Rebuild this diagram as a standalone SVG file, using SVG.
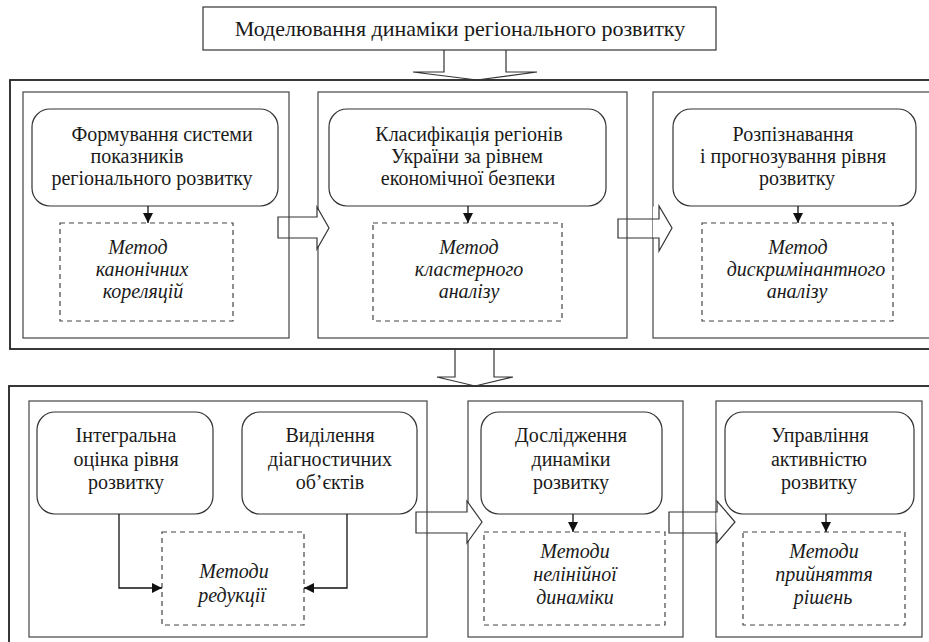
<svg xmlns="http://www.w3.org/2000/svg" width="929" height="642" viewBox="0 0 929 642">
<defs>
<style>
.frame{fill:none;stroke:#222;stroke-width:1.8}
.panel{fill:none;stroke:#444;stroke-width:1.2}
.rbox{fill:#fff;stroke:#333;stroke-width:1.2}
.dbox{fill:none;stroke:#444;stroke-width:1.2;stroke-dasharray:5,4}
.hollow{fill:none;stroke:#333;stroke-width:1.2;stroke-linejoin:miter}
.mask{fill:#fff;stroke:none}
.link{fill:none;stroke:#111;stroke-width:1.3}
text{font-family:"Liberation Serif","Times New Roman",serif;font-size:20px;fill:#1a1a1a;text-anchor:middle}
.it{font-style:italic}
.ttl{font-size:22px}
</style>
<marker id="ah" viewBox="0 0 10 10" refX="10" refY="5" markerWidth="10" markerHeight="10" markerUnits="userSpaceOnUse" orient="auto">
<path d="M0,0 L10,5 L0,10 Z" fill="#111"/>
</marker>
</defs>

<g id="title">
<rect x="203" y="7" width="513" height="43" fill="#fff" stroke="#333" stroke-width="1.2"/>
<text class="ttl" x="460" y="36">Моделювання динаміки регіонального розвитку</text>
</g>

<g id="frames">
<rect class="frame" x="10" y="80" width="935" height="269"/>
<rect class="frame" x="9" y="386" width="935" height="270"/>
</g>

<g id="panel1">
<rect class="panel" x="23" y="92" width="266" height="246"/>
<rect class="rbox" x="32" y="109" width="246" height="97" rx="18"/>
<text x="162" y="141">Формування системи</text>
<text x="137" y="163">показників</text>
<text x="152" y="185">регіонального розвитку</text>
<rect class="dbox" x="60" y="223" width="173" height="98"/>
<text class="it" x="138" y="254">Метод</text>
<text class="it" x="142" y="276">канонічних</text>
<text class="it" x="143" y="298">кореляцій</text>
</g>

<g id="panel2">
<rect class="panel" x="318" y="92" width="309" height="246"/>
<rect class="rbox" x="329" y="109" width="277" height="97" rx="18"/>
<text x="469" y="141">Класифікація регіонів</text>
<text x="467" y="163">України за рівнем</text>
<text x="468" y="185">економічної безпеки</text>
<rect class="dbox" x="373" y="223" width="189" height="98"/>
<text class="it" x="469" y="254">Метод</text>
<text class="it" x="469" y="276">кластерного</text>
<text class="it" x="469" y="298">аналізу</text>
</g>

<g id="panel3">
<rect class="panel" x="653" y="92" width="290" height="246"/>
<rect class="rbox" x="673" y="109" width="243" height="97" rx="18"/>
<text x="793" y="141">Розпізнавання</text>
<text x="793" y="163">і прогнозування рівня</text>
<text x="797" y="185">розвитку</text>
<rect class="dbox" x="702" y="223" width="191" height="98"/>
<text class="it" x="798" y="254">Метод</text>
<text class="it" x="806" y="276">дискримінантного</text>
<text class="it" x="797" y="298">аналізу</text>
</g>

<g id="panel4">
<rect class="panel" x="29" y="401" width="398" height="236"/>
<rect class="rbox" x="37" y="412" width="176" height="102" rx="18"/>
<text x="126" y="442">Інтегральна</text>
<text x="126" y="466">оцінка рівня</text>
<text x="126" y="489">розвитку</text>
<rect class="rbox" x="242" y="412" width="175" height="102" rx="18"/>
<text x="330" y="442">Виділення</text>
<text x="330" y="466">діагностичних</text>
<text x="330" y="489">об’єктів</text>
<rect class="dbox" x="162" y="532" width="142" height="93"/>
<text class="it" x="234" y="578">Методи</text>
<text class="it" x="232" y="602">редукції</text>
</g>

<g id="panel5">
<rect class="panel" x="468" y="401" width="215" height="236"/>
<rect class="rbox" x="481" y="412" width="181" height="102" rx="18"/>
<text x="571" y="442">Дослідження</text>
<text x="571" y="466">динаміки</text>
<text x="571" y="489">розвитку</text>
<rect class="dbox" x="484" y="532" width="181" height="93"/>
<text class="it" x="575" y="558">Методи</text>
<text class="it" x="575" y="581">нелінійної</text>
<text class="it" x="575" y="604">динаміки</text>
</g>

<g id="panel6">
<rect class="panel" x="716" y="401" width="206" height="236"/>
<rect class="rbox" x="725" y="412" width="189" height="102" rx="18"/>
<text x="820" y="442">Управління</text>
<text x="819" y="466">активністю</text>
<text x="819" y="489">розвитку</text>
<rect class="dbox" x="743" y="532" width="162" height="93"/>
<text class="it" x="824" y="558">Методи</text>
<text class="it" x="824" y="581">прийняття</text>
<text class="it" x="823" y="604">рішень</text>
</g>

<g id="connectors">
<path class="hollow" d="M444,50 V72 H413 L477,80 L537,72 H506 V50"/>
<path class="hollow" d="M455,349 V377 H437 L475,386 L513,377 H494 V349"/>
<path class="mask" d="M317,207 L329,228 L317,249 Z"/>
<path class="hollow" d="M278,217 H317 V207 L329,228 L317,249 V238 H278 Z"/>
<path class="mask" d="M653,206 L672,228 L659,251 V238 H653 Z"/>
<path class="hollow" d="M618,219 H659 V206 L672,228 L659,251 V238 H618 Z"/>
<path class="mask" d="M467,501 L482,522 L467,543 Z"/>
<path class="hollow" d="M416,512 H467 V501 L482,522 L467,543 V533 H416 Z"/>
<path class="mask" d="M716,501 L735,522 L717,543 Z"/>
<path class="hollow" d="M669,512 H717 V501 L735,522 L717,543 V533 H669 Z"/>
<line class="link" x1="148" y1="206" x2="148" y2="223" marker-end="url(#ah)"/>
<line class="link" x1="468" y1="206" x2="468" y2="223" marker-end="url(#ah)"/>
<line class="link" x1="798" y1="206" x2="798" y2="223" marker-end="url(#ah)"/>
<line class="link" x1="573" y1="514" x2="573" y2="532" marker-end="url(#ah)"/>
<line class="link" x1="826" y1="514" x2="826" y2="532" marker-end="url(#ah)"/>
<path class="link" d="M119,514 V588 H162" marker-end="url(#ah)"/>
<path class="link" d="M347,514 V588 H304" marker-end="url(#ah)"/>
</g>
</svg>
